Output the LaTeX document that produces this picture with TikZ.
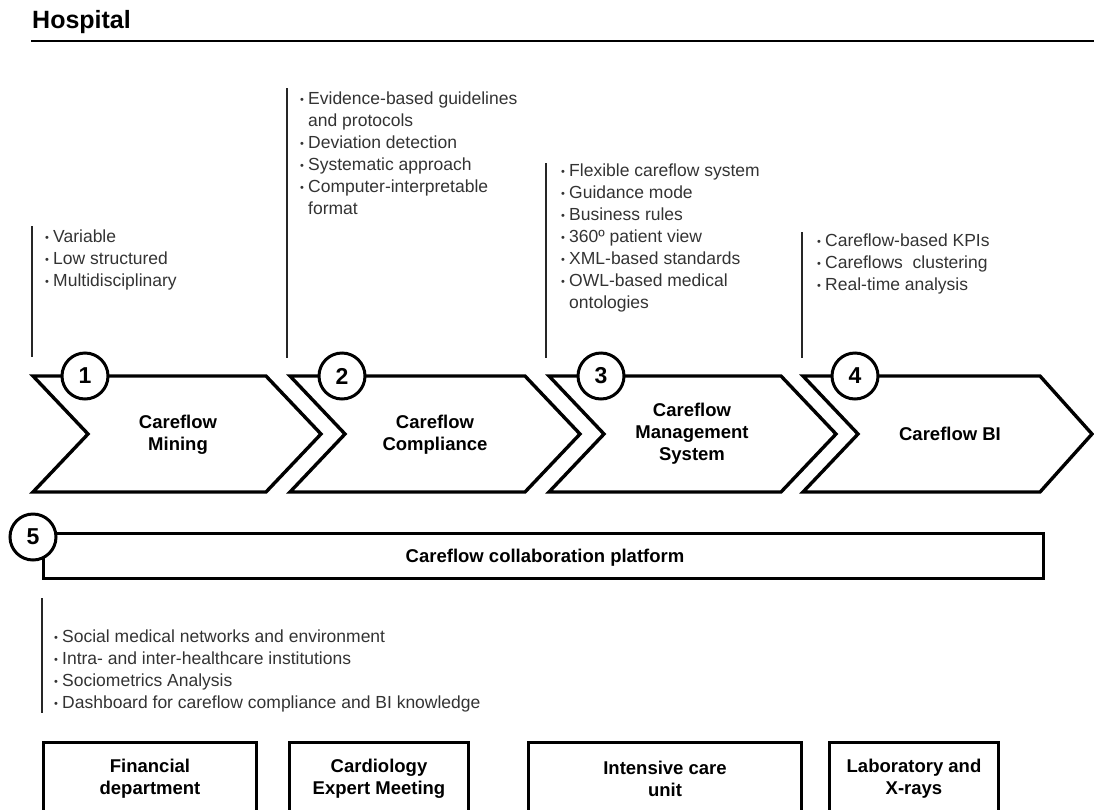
\documentclass[tikz,border=0pt]{standalone}
\usepackage{fontspec}
\setmainfont{Liberation Sans}
\newcommand{\bul}{\makebox[8pt][l]{\raisebox{1.4pt}{\fontsize{11}{11}\selectfont\textbullet}}}
\newcommand{\ind}{\hspace*{8pt}}

\begin{document}
\begin{tikzpicture}[x=1pt,y=-1pt,
  chev/.style={draw,line width=3.4pt,fill=white,line join=miter},
  num/.style={circle,draw,line width=3pt,fill=white,minimum size=46pt,inner sep=0pt,font=\bfseries\fontsize{23}{23}\selectfont},
  lbl/.style={align=center,font=\bfseries\fontsize{18.5}{22}\selectfont},
  lst/.style={align=left,anchor=north west,inner sep=0pt,text=black!80,font=\fontsize{17.5}{22}\selectfont},
  bar/.style={line width=1.2pt,black!85},
  dept/.style={draw,line width=3.4pt,minimum height=73pt,align=center,font=\bfseries\fontsize{18.5}{22}\selectfont}]
\useasboundingbox (0,0) rectangle (1094,809);

% header
\node[anchor=base west,inner sep=0pt,font=\bfseries\fontsize{25}{25}\selectfont] (title) at (32,28) {Hospital};
\draw[line width=1.3pt] (31,41) -- (1094,41);

% notes above the steps
\draw[bar] (32,226) -- (32,357);
\node[lst] (l1) at (45,230) {\bul Variable\\\bul Low structured\\\bul Multidisciplinary};
\draw[bar] (287,88) -- (287,358);
\node[lst] (l2) at (300,92) {\bul Evidence-based guidelines\\\ind and protocols\\\bul Deviation detection\\\bul Systematic approach\\\bul Computer-interpretable\\\ind format};
\draw[bar] (546,163) -- (546,358);
\node[lst] (l3) at (561,164) {\bul Flexible careflow system\\\bul Guidance mode\\\bul Business rules\\\bul 360º patient view\\\bul XML-based standards\\\bul OWL-based medical\\\ind ontologies};
\draw[bar] (802,232) -- (802,358);
\node[lst] (l4) at (817,234) {\bul Careflow-based KPIs\\\bul Careflows~ clustering\\\bul Real-time analysis};

% steps
\draw[chev] (33,376) -- (266,376) -- (321,434) -- (266,492) -- (33,492) -- (88,434) -- cycle;
\draw[chev] (290,376) -- (525,376) -- (580,434) -- (525,492) -- (290,492) -- (345,434) -- cycle;
\draw[chev] (549,376) -- (781,376) -- (836,434) -- (781,492) -- (549,492) -- (604,434) -- cycle;
\draw[chev] (803,376) -- (1040,376) -- (1092,434) -- (1040,492) -- (803,492) -- (858,434) -- cycle;
\node[lbl] (mining) at (178,435) {Careflow\\Mining};
\node[lbl] (compl) at (435,435) {Careflow\\Compliance};
\node[lbl] (cms) at (692,434) {Careflow\\Management\\System};
\node[lbl] (bi) at (950,434) {Careflow BI};
\node[num] (n1) at (85,376) {1};
\node[num] (n2) at (342,376) {2};
\node[num] (n3) at (601,376) {3};
\node[num] (n4) at (855,376) {4};

% platform
\node[draw,line width=3.4pt,minimum width=1000pt,minimum height=45pt] (platform) at (543.5,556) {};
\node[lbl] (collab) at (545,558) {Careflow collaboration platform};
\node[num] (n5) at (33,537) {5};

\draw[bar] (42,598) -- (42,713);
\node[lst] (l5) at (54,630) {\bul Social medical networks and environment\\\bul Intra- and inter-healthcare institutions\\\bul Sociometrics Analysis\\\bul Dashboard for careflow compliance and BI knowledge};

% departments
\node[dept,minimum width=213pt] (fin) at (150,779) {Financial\\department};
\node[dept,minimum width=179pt] (card) at (379,779) {Cardiology\\Expert Meeting};
\node[dept,minimum width=273pt] (icu) at (665,779) {Intensive care\\unit};
\node[dept,minimum width=169pt] (lab) at (914,779) {Laboratory and\\X-rays};
\end{tikzpicture}
\end{document}
